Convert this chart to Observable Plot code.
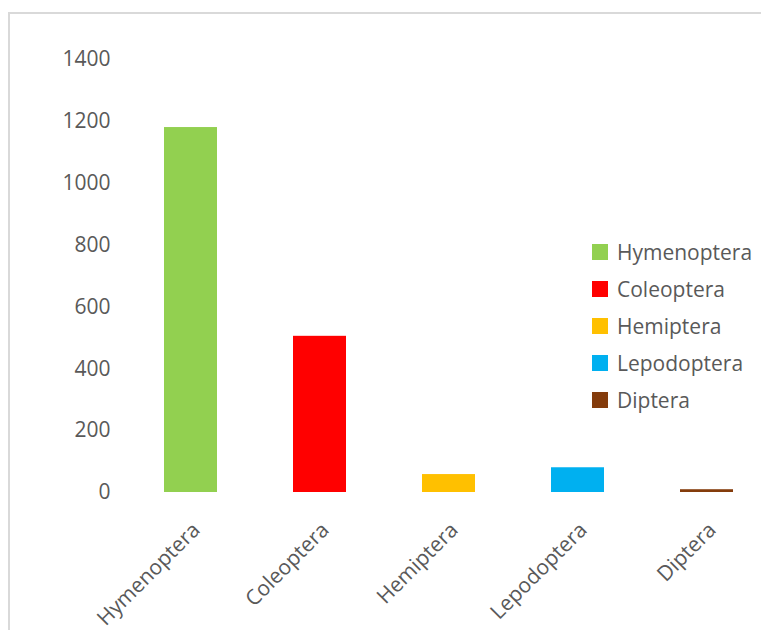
<!DOCTYPE html>
<html>
<head>
<meta charset="utf-8">
<script src="https://cdn.jsdelivr.net/npm/d3@7"></script>
<script src="https://cdn.jsdelivr.net/npm/@observablehq/plot@0.6"></script>
<style>
  html, body { margin: 0; padding: 0; background: #fff; }
  #wrap { position: relative; width: 761px; height: 630px; overflow: hidden; font-family: "Open Sans", sans-serif; }
  #frame { position: absolute; left: 8px; top: 12px; width: 900px; height: 900px; border-top: 2px solid #d9d9d9; border-left: 2px solid #d9d9d9; box-sizing: border-box; }
  #chart { position: absolute; left: 0; top: 0; }
  #legend { position: absolute; left: 592px; top: 233px; }
</style>
</head>
<body>
<div id="wrap">
  <div id="frame"></div>
  <div id="chart"></div>
  <div id="legend"></div>
</div>
<script>
const categories = ["Hymenoptera", "Coleoptera", "Hemiptera", "Lepodoptera", "Diptera"];
const values = [1180, 505, 58, 80, 9];
const colors = ["#92D050", "#FF0000", "#FFC000", "#00B0F0", "#843C0C"];
const yTicks = [0, 200, 400, 600, 800, 1000, 1200, 1400];

const data = categories.map((c, i) => ({ category: c, value: values[i] }));

const chart = Plot.plot({
  width: 761,
  height: 630,
  marginTop: 59,
  marginBottom: 138,
  marginLeft: 136,
  marginRight: 0,
  style: { fontFamily: "Open Sans, sans-serif", fontSize: "21px", color: "#595959", background: "transparent" },
  x: { domain: categories, paddingInner: 0.59, paddingOuter: 0.217, label: null },
  y: { domain: [0, 1400], label: null },
  color: { domain: categories, range: colors },
  marks: [
    Plot.barY(data, { x: "category", y: "value", fill: "category" }),
    Plot.axisY({ ticks: yTicks, tickFormat: d => String(d), tickSize: 0, tickPadding: 26, label: null, fill: "#595959", fontSize: 21 }),
    Plot.axisX({ tickSize: 0, tickPadding: 34, tickRotate: -45, dx: 5.5, label: null, fill: "#595959", fontSize: 21 })
  ]
});
document.getElementById("chart").appendChild(chart);

const legend = Plot.legend({
  color: { domain: categories, range: colors, type: "ordinal" },
  legend: "swatches",
  columns: 1,
  swatchSize: 16,
  style: { fontFamily: "Open Sans, sans-serif", fontSize: "21px", color: "#595959" }
});
const lg = document.getElementById("legend");
lg.appendChild(legend);
legend.style.margin = "0";
legend.querySelectorAll("svg").forEach(s => {
  s.style.marginRight = "9px";
  const item = s.parentElement;
  item.style.height = "37px";
  item.style.display = "flex";
  item.style.alignItems = "center";
  item.style.paddingBottom = "0";
});
</script>
</body>
</html>
